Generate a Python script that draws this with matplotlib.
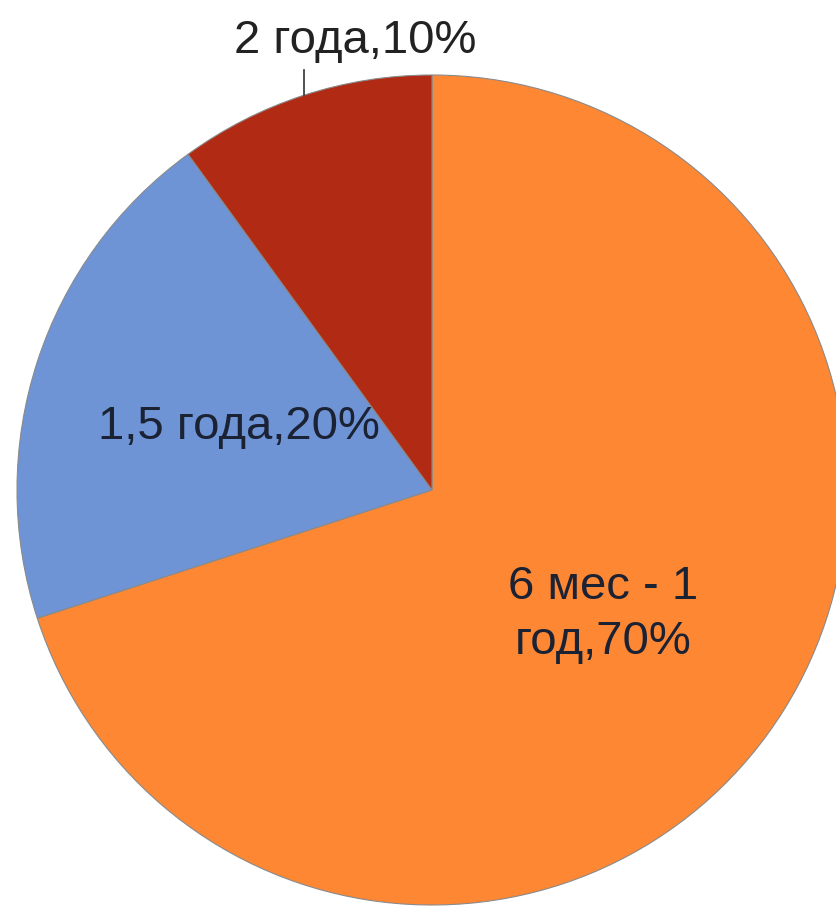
import matplotlib.pyplot as plt
import numpy as np

# Data
labels = ["6 мес - 1\nгод", "1,5 года", "2 года"]
values = [70, 20, 10]
colors = ["#FD8733", "#6E94D6", "#B02A14"]

W, H = 836, 906
fig = plt.figure(figsize=(W / 100, H / 100), dpi=100)
# pie centre at (432, 490) px, radius 415 px
cx, cy, r = 432, 490, 415
ax = fig.add_axes([(cx - r) / W, (H - cy - r) / H, 2 * r / W, 2 * r / H])

wedges, _ = ax.pie(values, colors=colors, startangle=90, counterclock=False,
                   radius=1, wedgeprops=dict(edgecolor="#8a8a8a", linewidth=0.8))
ax.set_xlim(-1, 1)
ax.set_ylim(-1, 1)
ax.set_aspect("auto")
ax.axis("off")

# Labels
dist = [0.51, 0.49]
for i, w in enumerate(wedges):
    mid = np.deg2rad((w.theta1 + w.theta2) / 2)
    txt = f"{labels[i]},{values[i]}%"
    if i < 2:
        ax.text(dist[i] * np.cos(mid), dist[i] * np.sin(mid), txt, ha="center", va="center",
                fontsize=34, family="Liberation Sans", color="#1b2233", linespacing=1.3)
    else:
        x0, y0 = np.cos(mid), np.sin(mid)
        ax.plot([x0, x0], [y0, y0 + 0.06], color="#333333", lw=1.2, clip_on=False)
        ax.text(x0 + 0.125, y0 + 0.13, txt, ha="center", va="center",
                fontsize=34, family="Liberation Sans", color="#222222")

fig.savefig("out.png", dpi=100)
